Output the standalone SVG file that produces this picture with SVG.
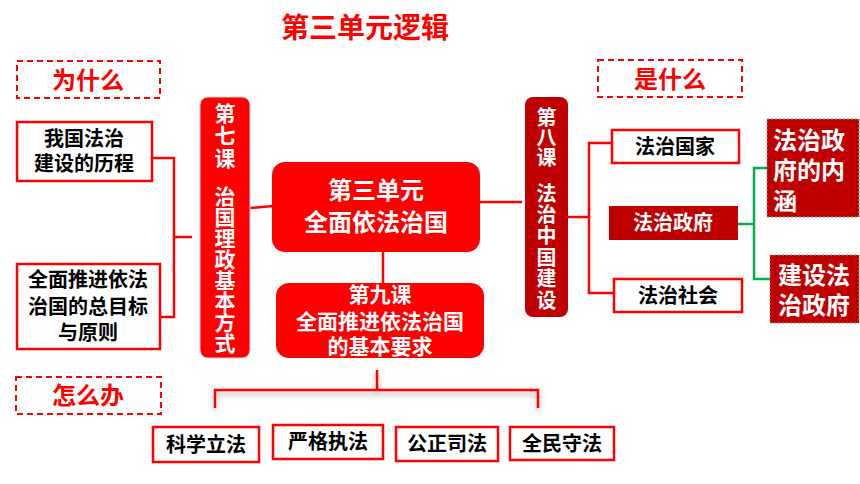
<svg xmlns="http://www.w3.org/2000/svg" width="860" height="484" viewBox="0 0 860 484">
<defs>
<style>
text{font-family:"Noto Sans CJK SC","Noto Sans",sans-serif;font-weight:bold;text-anchor:middle}
.vt{writing-mode:vertical-rl;text-anchor:start}
.red{fill:#FF0000}
.wh{fill:#FFFFFF}
.bk{fill:#000000}
.dash{fill:#FFFFFF;stroke:#FF0000;stroke-width:2;stroke-dasharray:6 4}
.wbox{fill:#FFFFFF;stroke:#FF0000;stroke-width:2.5}
.rbox{fill:#FF0000}
.dbox{fill:#C00000}
.ln{fill:none;stroke:#FF0000;stroke-width:2.5}
.gln{fill:none;stroke:#00B050;stroke-width:2.5}
</style>
<filter id="sh" x="-10%" y="-50%" width="120%" height="200%">
<feDropShadow dx="0" dy="3" stdDeviation="3" flood-color="#000" flood-opacity="0.35"/>
</filter>
</defs>
<rect width="860" height="484" fill="#FFFFFF"/>
<text id="title" x="365" y="38" class="red" font-size="28">第三单元逻辑</text>

<g id="connectors">
<polyline class="ln" points="152,158 174,158 174,317 160,317"/>
<line class="ln" x1="174" y1="237" x2="192" y2="237"/>
<line class="ln" x1="250" y1="208" x2="273" y2="206"/>
<line class="ln" x1="383" y1="252" x2="383" y2="284"/>
<line class="ln" x1="480" y1="202" x2="522" y2="202"/>
<polyline class="ln" points="568,217 589,217"/>
<polyline class="ln" points="612,143 589,143 589,293 614,293"/>
<polyline class="gln" points="738,224 754,224"/>
<polyline class="gln" points="767,168 754,168 754,279 770,279"/>
<g filter="url(#sh)">
<line class="ln" x1="377" y1="370" x2="377" y2="390"/>
<polyline class="ln" points="215,408 215,390 538,390 538,408"/>
</g>
</g>

<g id="why">
<rect class="dash" x="17" y="61" width="143" height="37"/>
<text x="88" y="89" class="red" font-size="24">为什么</text>
</g>
<g id="what">
<rect class="dash" x="598" y="60" width="144" height="37"/>
<text x="670" y="88" class="red" font-size="24">是什么</text>
</g>
<g id="how">
<rect class="dash" x="16" y="377" width="145" height="37"/>
<text x="88" y="404" class="red" font-size="24">怎么办</text>
</g>

<g id="history">
<rect class="wbox" x="17" y="122" width="135" height="59"/>
<text class="bk" font-size="20"><tspan x="84" y="146">我国法治</tspan><tspan x="84" y="171">建设的历程</tspan></text>
</g>
<g id="goal">
<rect class="wbox" x="17" y="264" width="143" height="85"/>
<text class="bk" font-size="20"><tspan x="88" y="287">全面推进依法</tspan><tspan x="88" y="314">治国的总目标</tspan><tspan x="88" y="340">与原则</tspan></text>
</g>

<g id="lesson7">
<rect class="rbox" x="200" y="97" width="50" height="261" rx="8" stroke="#D0D0D0" stroke-width="1"/>
<text class="wh vt" x="225" y="102.5" font-size="21" letter-spacing="1.5">第七课</text>
<text class="wh vt" x="225" y="185.5" font-size="21">治国理政基本方式</text>
</g>

<g id="unit">
<rect class="rbox" x="272" y="162" width="208" height="90" rx="13"/>
<text class="wh" font-size="24"><tspan x="376" y="199">第三单元</tspan><tspan x="376" y="231">全面依法治国</tspan></text>
</g>

<g id="lesson9">
<rect class="rbox" x="276" y="283" width="208" height="75" rx="13"/>
<text class="wh" font-size="21"><tspan x="380" y="302">第九课</tspan><tspan x="380" y="329">全面推进依法治国</tspan><tspan x="380" y="354">的基本要求</tspan></text>
</g>

<g id="lesson8">
<rect class="dbox" x="525" y="97" width="43" height="220" rx="8"/>
<text class="wh vt" x="546.5" y="107" font-size="20">第八课</text>
<text class="wh vt" x="546.5" y="183" font-size="20" letter-spacing="1.4">法治中国建设</text>
</g>

<g id="state">
<rect class="wbox" x="612" y="130" width="127" height="33"/>
<text x="675" y="154" class="bk" font-size="20">法治国家</text>
</g>
<g id="gov">
<rect class="dbox" x="609" y="206" width="129" height="34"/>
<text x="673" y="230" class="wh" font-size="20">法治政府</text>
</g>
<g id="society">
<rect class="wbox" x="614" y="279" width="128" height="33"/>
<text x="678" y="303" class="bk" font-size="20">法治社会</text>
</g>

<g id="govmeaning">
<rect class="dbox" x="767" y="119" width="92" height="98" stroke="#7A9A6A" stroke-width="1" stroke-dasharray="2 2"/>
<text class="wh" font-size="24" style="text-anchor:start"><tspan x="773" y="149">法治政</tspan><tspan x="773" y="179">府的内</tspan><tspan x="773" y="210">涵</tspan></text>
</g>
<g id="buildgov">
<rect class="dbox" x="770" y="255" width="89" height="68" stroke="#7A9A6A" stroke-width="1" stroke-dasharray="2 2"/>
<text class="wh" font-size="24"><tspan x="814" y="284">建设法</tspan><tspan x="814" y="314">治政府</tspan></text>
</g>

<g id="legislate">
<rect class="wbox" x="153" y="427" width="106" height="35"/>
<text x="206" y="452" class="bk" font-size="20">科学立法</text>
</g>
<g id="enforce">
<rect class="wbox" x="273" y="425" width="110" height="34"/>
<text x="328" y="449" class="bk" font-size="20">严格执法</text>
</g>
<g id="justice">
<rect class="wbox" x="396" y="427" width="102" height="34"/>
<text x="447" y="451" class="bk" font-size="20">公正司法</text>
</g>
<g id="obey">
<rect class="wbox" x="510" y="427" width="104" height="33"/>
<text x="562" y="451" class="bk" font-size="20">全民守法</text>
</g>
</svg>
